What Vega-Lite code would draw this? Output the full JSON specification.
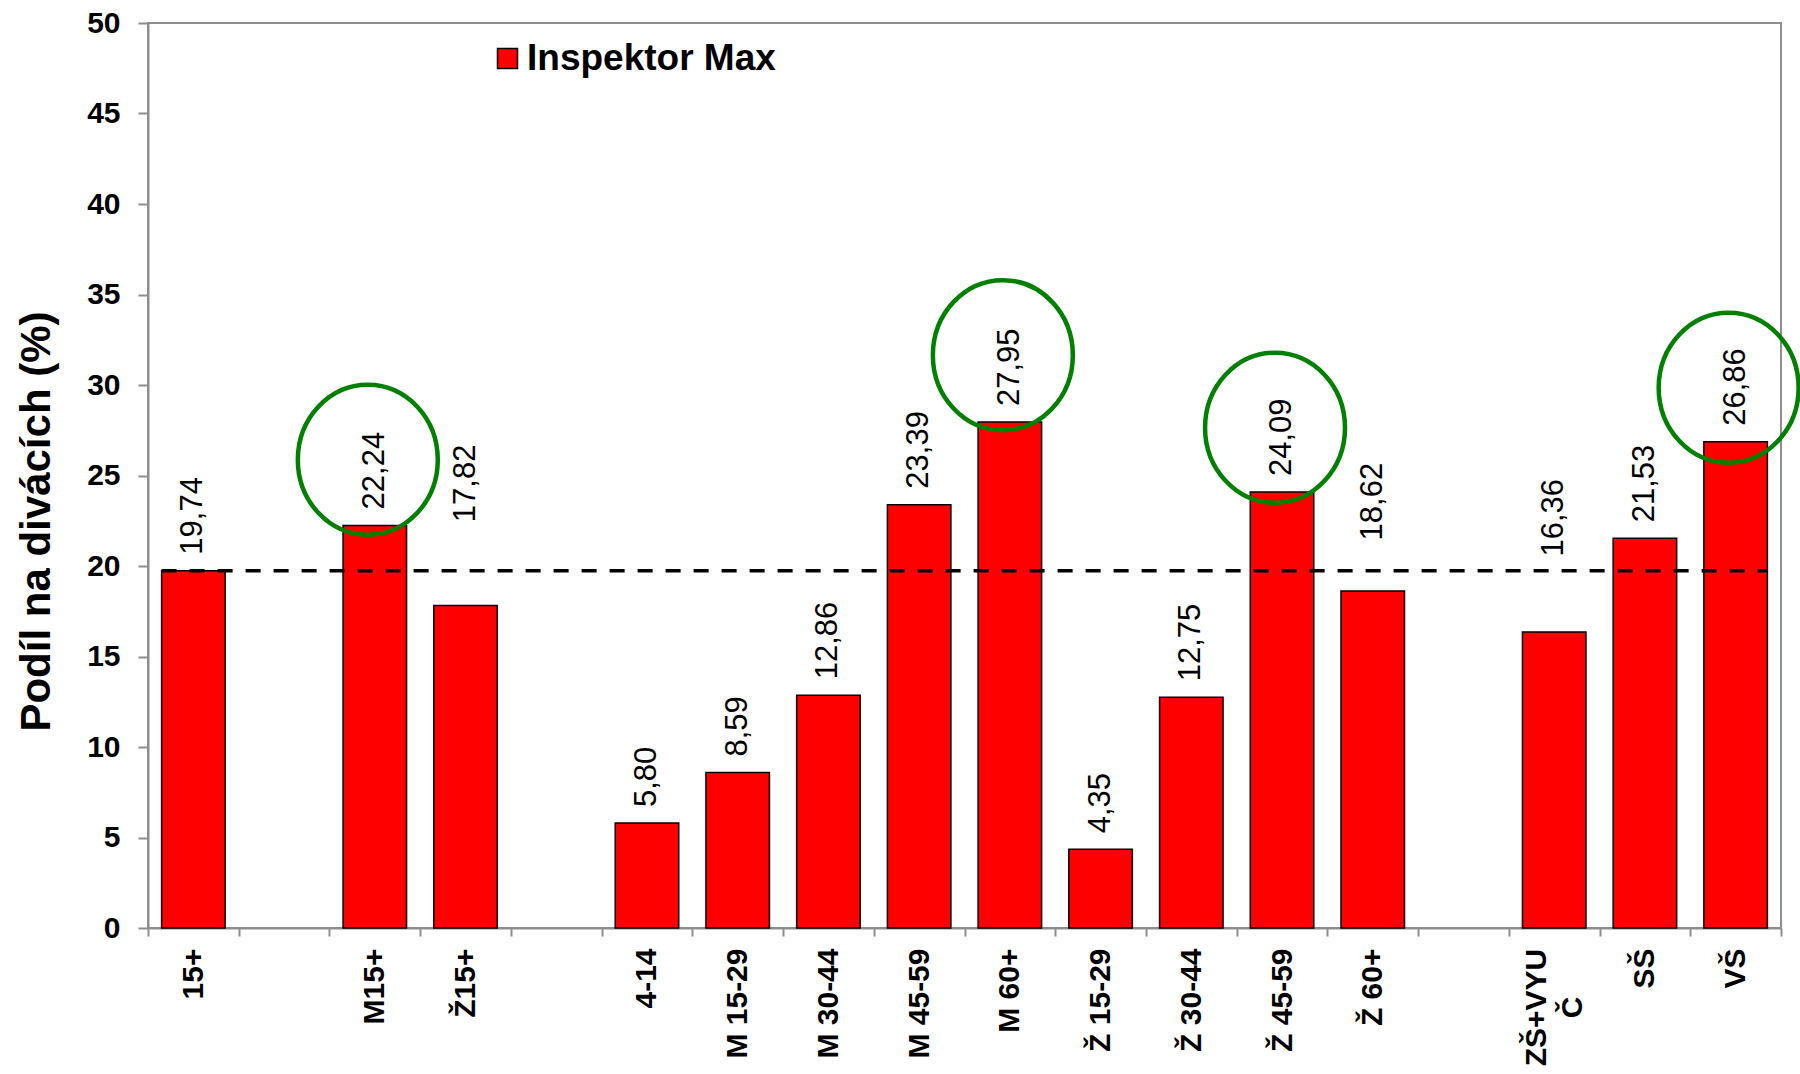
{
  "$schema": "https://vega.github.io/schema/vega-lite/v6.json",
  "width": 1633,
  "height": 905,
  "autosize": {"type": "none"},
  "padding": {"left": 148, "top": 23, "right": 19, "bottom": 146},
  "background": "white",
  "config": {
    "font": "Liberation Sans",
    "view": {"stroke": "#8e8e8e", "strokeWidth": 2}
  },
  "datasets": {
    "bars": [
      {"cat": "15+", "value": 19.74, "label": "19,74", "labelAt": 19.74, "series": "Inspektor Max"},
      {"cat": "M15+", "value": 22.24, "label": "22,24", "labelAt": 22.24, "series": "Inspektor Max"},
      {"cat": "Ž15+", "value": 17.82, "label": "17,82", "labelAt": 21.54, "series": "Inspektor Max"},
      {"cat": "4-14", "value": 5.80, "label": "5,80", "labelAt": 5.80, "series": "Inspektor Max"},
      {"cat": "M 15-29", "value": 8.59, "label": "8,59", "labelAt": 8.59, "series": "Inspektor Max"},
      {"cat": "M 30-44", "value": 12.86, "label": "12,86", "labelAt": 12.86, "series": "Inspektor Max"},
      {"cat": "M 45-59", "value": 23.39, "label": "23,39", "labelAt": 23.39, "series": "Inspektor Max"},
      {"cat": "M 60+", "value": 27.95, "label": "27,95", "labelAt": 27.95, "series": "Inspektor Max"},
      {"cat": "Ž 15-29", "value": 4.35, "label": "4,35", "labelAt": 4.35, "series": "Inspektor Max"},
      {"cat": "Ž 30-44", "value": 12.75, "label": "12,75", "labelAt": 12.75, "series": "Inspektor Max"},
      {"cat": "Ž 45-59", "value": 24.09, "label": "24,09", "labelAt": 24.09, "series": "Inspektor Max"},
      {"cat": "Ž 60+", "value": 18.62, "label": "18,62", "labelAt": 20.53, "series": "Inspektor Max"},
      {"cat": "ZŠ+VYUČ", "value": 16.36, "label": "16,36", "labelAt": 19.64, "series": "Inspektor Max"},
      {"cat": "SŠ", "value": 21.53, "label": "21,53", "labelAt": 21.53, "series": "Inspektor Max"},
      {"cat": "VŠ", "value": 26.86, "label": "26,86", "labelAt": 26.86, "series": "Inspektor Max"}
    ],
    "circles": [
      {"cat": "M15+", "y": 25.87},
      {"cat": "M 60+", "y": 31.65},
      {"cat": "Ž 45-59", "y": 27.64},
      {"cat": "VŠ", "y": 29.85}
    ]
  },
  "layer": [
    {
      "data": {"name": "bars"},
      "mark": {"type": "bar", "width": {"band": 0.7}, "stroke": "black", "strokeWidth": 1.5},
      "encoding": {
        "x": {
          "field": "cat",
          "type": "nominal",
          "sort": null,
          "scale": {
            "domain": ["15+", " ", "M15+", "Ž15+", "  ", "4-14", "M 15-29", "M 30-44", "M 45-59", "M 60+", "Ž 15-29", "Ž 30-44", "Ž 45-59", "Ž 60+", "   ", "ZŠ+VYUČ", "SŠ", "VŠ"],
            "paddingInner": 0,
            "paddingOuter": 0
          },
          "axis": {
            "title": null,
            "tickBand": "extent",
            "labelAngle": 270,
            "labelAlign": {"condition": {"test": "datum.value == 'ZŠ+VYUČ'", "value": "center"}, "value": "right"},
            "labelBaseline": "middle",
            "labelFontSize": 30,
            "labelFontWeight": "bold",
            "labelColor": "black",
            "labelPadding": {"condition": {"test": "datum.value == 'ZŠ+VYUČ'", "value": 71}, "value": 12},
            "labelOffset": {"condition": {"test": "datum.value == 'ZŠ+VYUČ'", "value": -18}, "value": 0},
            "labelLineHeight": 36,
            "labelExpr": "datum.value == 'ZŠ+VYUČ' ? ['ZŠ+VYU', 'Č'] : datum.label",
            "tickSize": 8,
            "tickWidth": 2,
            "tickColor": "#8e8e8e",
            "domainColor": "#8e8e8e",
            "domainWidth": 2,
            "labelOverlap": false
          }
        },
        "y": {
          "field": "value",
          "type": "quantitative",
          "scale": {"domain": [0, 50], "nice": false},
          "axis": {
            "title": "Podíl na divácích (%)",
            "titleFontSize": 42,
            "titleFontWeight": "bold",
            "titleColor": "black",
            "titleY": 498,
            "titlePadding": 28,
            "values": [0, 5, 10, 15, 20, 25, 30, 35, 40, 45, 50],
            "grid": false,
            "labelFontSize": 30,
            "labelFontWeight": "bold",
            "labelColor": "black",
            "labelPadding": 18,
            "tickSize": 10,
            "tickWidth": 2,
            "tickColor": "#8e8e8e",
            "domainColor": "#8e8e8e",
            "domainWidth": 2
          }
        },
        "fill": {
          "field": "series",
          "type": "nominal",
          "scale": {"range": ["#ff0000"]},
          "legend": {
            "title": null,
            "orient": "none",
            "legendX": 341,
            "legendY": 17,
            "padding": 0,
            "symbolType": "square",
            "symbolSize": 400,
            "symbolStrokeColor": "black",
            "symbolStrokeWidth": 1.5,
            "symbolFillColor": "#ff0000",
            "labelFontSize": 37,
            "labelFontWeight": "bold",
            "labelColor": "black",
            "labelOffset": 1,
            "labelLimit": 0
          }
        }
      }
    },
    {
      "data": {"name": "bars"},
      "mark": {"type": "text", "angle": 270, "align": "left", "baseline": "middle", "dx": 16, "fontSize": 31, "color": "black"},
      "encoding": {
        "x": {"field": "cat", "type": "nominal", "sort": null},
        "y": {"field": "labelAt", "type": "quantitative"},
        "text": {"field": "label"}
      }
    },
    {
      "data": {"values": [{}]},
      "mark": {"type": "rule", "strokeDash": [15, 13], "strokeWidth": 3.5, "color": "black"},
      "encoding": {
        "x": {"datum": "15+", "bandPosition": 0.15},
        "x2": {"datum": "VŠ", "bandPosition": 0.85},
        "y": {"datum": 19.74}
      }
    },
    {
      "data": {"name": "circles"},
      "mark": {
        "type": "point",
        "shape": "M-0.933,0A0.933,1,0,1,1,0.933,0A0.933,1,0,1,1,-0.933,0Z",
        "size": 22500,
        "filled": false,
        "stroke": "#008000",
        "strokeWidth": 4.5,
        "opacity": 1,
        "xOffset": -7
      },
      "encoding": {
        "x": {"field": "cat", "type": "nominal", "sort": null},
        "y": {"field": "y", "type": "quantitative"}
      }
    }
  ]
}
